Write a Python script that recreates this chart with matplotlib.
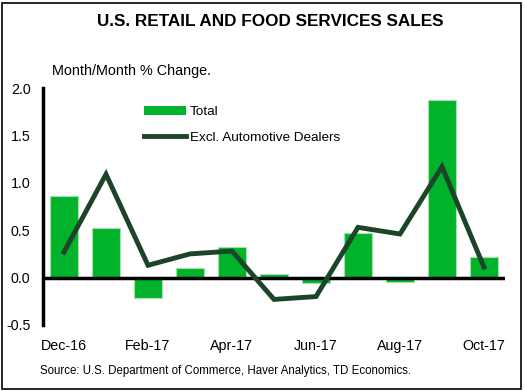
import matplotlib.pyplot as plt
from matplotlib.patches import Rectangle, Patch
from matplotlib.lines import Line2D

plt.rcParams['font.family'] = ['Liberation Sans', 'DejaVu Sans']

# data
months = ['Dec-16', 'Jan-17', 'Feb-17', 'Mar-17', 'Apr-17', 'May-17',
          'Jun-17', 'Jul-17', 'Aug-17', 'Sep-17', 'Oct-17']
total = [0.86, 0.52, -0.21, 0.10, 0.32, 0.04, -0.06, 0.47, -0.05, 1.87, 0.22]
excl_auto = [0.27, 1.09, 0.13, 0.25, 0.28, -0.23, -0.20, 0.53, 0.46, 1.17, 0.11]
yticks = [-0.5, 0.0, 0.5, 1.0, 1.5, 2.0]

bar_col = '#00b32b'
line_col = '#1c4428'

W, H = 525, 391
fig = plt.figure(figsize=(W / 100, H / 100), dpi=100)
ax = fig.add_axes([43 / W, 1 - 325 / H, (505 - 43) / W, (325 - 88) / H])

x = list(range(len(months)))
ax.bar(x, total, width=0.69, color=bar_col, edgecolor='#a8e0a8', linewidth=0.8, zorder=2)
ax.plot(x, excl_auto, color=line_col, linewidth=3.5, solid_joinstyle='miter', zorder=4)
ax.axhline(0, color='black', linewidth=2.5, zorder=3)

ax.set_xlim(-0.5, 10.5)
ax.set_ylim(-0.5, 2.0)
ax.set_yticks(yticks)
ax.set_yticklabels(['%.1f' % v for v in yticks], fontsize=10.3)
ax.set_xticks(x[::2])
ax.set_xticklabels(months[::2], fontsize=10.3)
ax.tick_params(length=0, axis='y', pad=9)
ax.tick_params(length=0, axis='x', pad=10)
for s in ['top', 'right', 'bottom']:
    ax.spines[s].set_visible(False)
ax.spines['left'].set_linewidth(2.5)
ax.spines['left'].set_zorder(5)

handles = [Patch(facecolor=bar_col, edgecolor='none'),
           Line2D([], [], color=line_col, linewidth=3.5)]
ax.legend(handles, ['Total', 'Excl. Automotive Dealers'], loc='upper left',
          bbox_to_anchor=(0.193, 0.975), frameon=False, fontsize=9.7,
          handlelength=3.1, handleheight=0.6, handletextpad=0.3, labelspacing=1.0)

fig.text(270 / W, 1 - 22 / H, 'U.S. RETAIL AND FOOD SERVICES SALES', ha='center',
         va='center', fontsize=12.3, fontweight='bold')
fig.text(52 / W, 1 - 71 / H, 'Month/Month % Change.', ha='left', va='center', fontsize=10.4)
fig.text(40 / W, 1 - 371 / H, 'Source: U.S. Department of Commerce, Haver Analytics, TD Economics.',
         ha='left', va='center', fontsize=8.3)

fig.patches.append(Rectangle((2 / W, 2 / H), (W - 6) / W, (H - 5) / H, transform=fig.transFigure,
                             fill=False, edgecolor='black', linewidth=1.2))

fig.savefig('out.png', dpi=100)
